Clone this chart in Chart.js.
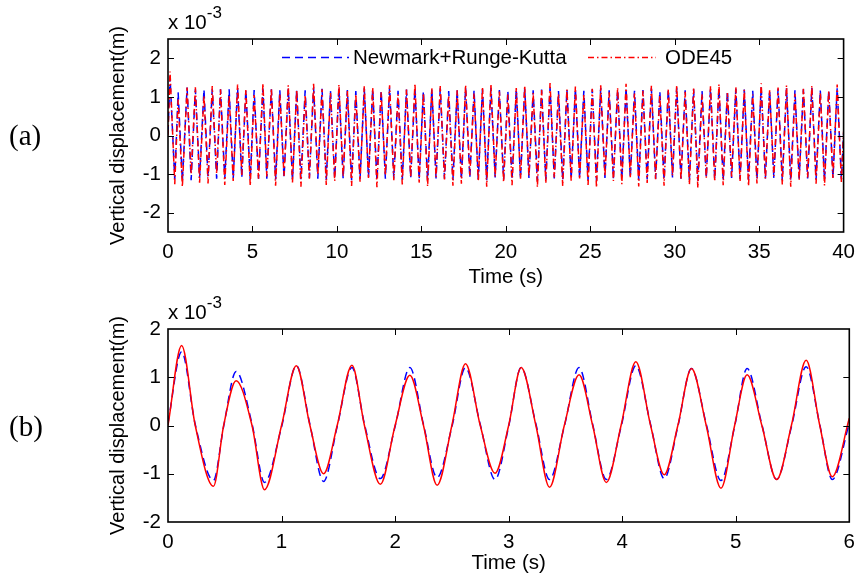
<!DOCTYPE html>
<html>
<head>
<meta charset="utf-8">
<script src="https://cdn.jsdelivr.net/npm/chart.js@4.4.1/dist/chart.umd.min.js"></script>
<style>
html,body{margin:0;padding:0;background:#ffffff;}
#wrap{position:relative;width:863px;height:581px;overflow:hidden;background:#fff;}
#c1{position:absolute;left:0;top:0;}
#c2{position:absolute;left:0;top:290px;}
</style>
</head>
<body>
<div id="wrap">
<canvas id="c1" width="863" height="290"></canvas>
<canvas id="c2" width="863" height="291"></canvas>
</div>
<script>
// ---------- Panel (a): 0-40 s (values in units of 1e-3 m) ----------
const timeA = [0,0.12,0.40,0.60,0.85,1.13,1.37,1.62,1.87,2.13,2.37,2.62,2.88,3.11,3.36,3.62,3.86,4.12,4.37,4.61,4.87,5.10,5.36,5.62,5.85,
6.12,6.37,6.62,6.87,7.12,7.37,7.62,7.87,8.12,8.37,8.62,8.87,9.12,9.37,9.62,9.87,
10.12,10.37,10.62,10.87,11.12,11.37,11.62,11.87,12.12,12.37,12.62,12.87,13.12,13.37,13.62,13.87,14.12,14.37,14.62,14.87,
15.12,15.37,15.62,15.87,16.12,16.37,16.62,16.87,17.12,17.37,17.62,17.87,18.12,18.37,18.62,18.87,19.12,19.37,19.62,19.87,
20.12,20.37,20.62,20.87,21.12,21.37,21.62,21.87,22.12,22.37,22.62,22.87,23.12,23.37,23.62,23.87,24.12,24.37,24.62,24.87,
25.12,25.37,25.62,25.87,26.12,26.37,26.62,26.87,27.12,27.37,27.62,27.87,28.12,28.37,28.62,28.87,29.12,29.37,29.62,29.87,
30.12,30.37,30.62,30.87,31.12,31.37,31.62,31.87,32.12,32.37,32.62,32.87,33.12,33.37,33.62,33.87,34.12,34.37,34.62,34.87,
35.12,35.37,35.62,35.87,36.12,36.37,36.62,36.87,37.12,37.37,37.62,37.87,38.12,38.37,38.62,38.87,39.12,39.37,39.62,39.87,40];

const newmarkA = [0.05,1.53,-1.14,1.12,-1.18,1.24,-1.16,1.20,-1.10,1.20,-1.08,1.20,-1.12,1.20,-1.12,1.20,-1.12,1.24,-1.10,1.18,-1.14,1.18,-1.12,1.22,-1.12,
1.20,-1.14,1.18,-1.10, 1.22,-1.16,1.19,-1.13, 1.17,-1.10,1.24,-1.12, 1.21,-1.15,1.16,-1.11,
1.23,-1.12,1.18,-1.16, 1.15,-1.13,1.22,-1.09, 1.20,-1.17,1.17,-1.12, 1.24,-1.11,1.16,-1.15, 1.19,-1.10,1.23,-1.14,
1.16,-1.16,1.21,-1.11, 1.22,-1.12,1.15,-1.15, 1.18,-1.14,1.24,-1.10, 1.17,-1.13,1.20,-1.16, 1.23,-1.09,1.18,-1.14,
1.16,-1.15,1.21,-1.12, 1.22,-1.10,1.17,-1.17, 1.19,-1.14,1.25,-1.11, 1.15,-1.16,1.20,-1.13, 1.21,-1.11,1.16,-1.15,
1.20,-1.17,1.23,-1.10, 1.17,-1.12,1.19,-1.14, 1.24,-1.10,1.16,-1.16, 1.18,-1.13,1.22,-1.12, 1.15,-1.15,1.20,-1.09,
1.23,-1.12,1.17,-1.15, 1.20,-1.17,1.15,-1.11, 1.22,-1.14,1.24,-1.16, 1.16,-1.10,1.21,-1.13, 1.19,-1.15,1.16,-1.14,
1.25,-1.11,1.18,-1.10, 1.21,-1.16,1.22,-1.15, 1.17,-1.12,1.20,-1.11, 1.23,-1.14,1.17,-1.16, 1.18,-1.11,1.23,-1.13,
0.05];

const ode45A = [0.00,1.66,-1.26,0.93,-1.33,1.24,-1.00,1.25,-1.22,1.04,-1.24,1.28,-0.99,1.20,-1.28,1.05,-1.18,1.32,-1.02,1.18,-1.30,1.05,-1.12,1.35,-1.06,
1.22,-1.30,1.08,-1.05, 1.30,-1.22,1.18,-1.33, 1.05,-1.12,1.34,-1.02, 1.20,-1.28,1.10,-1.18,
1.32,-1.06,1.16,-1.31, 1.07,-1.20,1.28,-1.10, 1.24,-1.34,1.12,-1.04, 1.30,-1.16,1.06,-1.27, 1.19,-1.09,1.35,-1.22,
1.10,-1.32,1.22,-1.08, 1.28,-1.14,1.04,-1.30, 1.17,-1.25,1.31,-1.03, 1.09,-1.19,1.26,-1.33, 1.33,-1.07,1.14,-1.21,
1.06,-1.29,1.23,-1.12, 1.29,-1.05,1.11,-1.34, 1.18,-1.24,1.36,-1.09, 1.08,-1.31,1.20,-1.17, 1.27,-1.11,1.05,-1.28,
1.21,-1.35,1.30,-1.06, 1.12,-1.18,1.24,-1.26, 1.34,-1.08,1.09,-1.32, 1.16,-1.23,1.29,-1.13, 1.05,-1.30,1.19,-1.04,
1.31,-1.15,1.13,-1.27, 1.22,-1.36,1.07,-1.10, 1.28,-1.20,1.33,-1.29, 1.10,-1.07,1.25,-1.19, 1.19,-1.31,1.06,-1.24,
1.35,-1.12,1.17,-1.05, 1.24,-1.27,1.30,-1.33, 1.08,-1.16,1.21,-1.09, 1.29,-1.25,1.12,-1.30, 1.16,-1.10,1.32,-1.21,
0.10];

const xTicksA = [0,5,10,15,20,25,30,35,40];
const yTicksA = [-2,-1,0,1,2];

// ---------- Panel (b): 0-6 s ----------
const timeB = [0,0.12,0.24,0.40,0.49,0.60,0.74,0.85,1.00,1.13,1.25,1.37,1.49,1.62,1.73,1.87,2.00,2.13,2.25,2.37,2.50,2.62,2.75,2.88,3.00,3.11,3.24,3.36,3.49,3.62,3.74,3.86,3.99,4.12,4.25,4.37,4.49,4.61,4.74,4.87,4.99,5.10,5.23,5.36,5.49,5.62,5.74,5.85,6.00];
const newmarkB = [0.05,1.53,0.02,-1.14,-0.02,1.12,0.03,-1.18,-0.03,1.24,0.02,-1.16,-0.02,1.20,0.03,-1.10,-0.02,1.20,0.02,-1.08,-0.03,1.20,0.02,-1.12,-0.02,1.20,0.03,-1.12,-0.02,1.20,0.02,-1.12,-0.03,1.24,0.02,-1.10,-0.02,1.18,0.03,-1.14,-0.02,1.18,0.02,-1.12,-0.03,1.22,0.02,-1.12,0.05];
const ode45B = [0.00,1.66,0.00,-1.26,0.00,0.93,0.00,-1.33,0.00,1.24,0.00,-1.00,0.00,1.25,0.00,-1.22,0.00,1.04,0.00,-1.24,0.00,1.28,0.00,-0.99,0.00,1.20,0.00,-1.28,0.00,1.05,0.00,-1.18,0.00,1.32,0.00,-1.02,0.00,1.18,0.00,-1.30,0.00,1.05,0.00,-1.12,0.00,1.35,0.00,-1.06,0.15];
const xTicksB = [0,1,2,3,4,5,6];
const yTicksB = [-2,-1,0,1,2];

const seriesNames = ['Newmark+Runge-Kutta','ODE45'];
const panelLabels = ['(a)','(b)'];
const xTitle = 'Time (s)';
const yTitle = 'Vertical displacement(m)';
const expText = 'x 10';
const expSup = '-3';

// ---------- styling ----------
const FONT = '"Liberation Sans", Arial, Helvetica, sans-serif';
Chart.defaults.font.family = FONT;
Chart.defaults.color = '#000';
const BLUE = '#0000ff', RED = '#ff0000';
const blueDash = [8,5];
const redDashDot = [6,3,1.5,3];

function pts(t, v){ return t.map((x,i)=>({x:x, y:v[i]})); }

const decor = {
  id:'decor',
  afterDraw(chart, args, o){
    const {ctx, chartArea:{left,right,top,bottom}, scales:{x,y}} = chart;
    ctx.save();
    ctx.setLineDash([]);
    ctx.strokeStyle = '#000';
    // inward ticks on all four sides
    ctx.lineWidth = 1;
    ctx.beginPath();
    x.ticks.forEach(t=>{
      const px = Math.round(x.getPixelForValue(t.value)) + 0.5;
      if (px < left+2 || px > right-2) return;
      ctx.moveTo(px,bottom); ctx.lineTo(px,bottom-6);
      ctx.moveTo(px,top); ctx.lineTo(px,top+6);
    });
    y.ticks.forEach(t=>{
      const py = Math.round(y.getPixelForValue(t.value)) + 0.5;
      if (py < top+2 || py > bottom-2) return;
      ctx.moveTo(left,py); ctx.lineTo(left+6,py);
      ctx.moveTo(right,py); ctx.lineTo(right-6,py);
    });
    ctx.stroke();
    // box
    ctx.lineWidth = 1.6;
    ctx.strokeRect(left, top, right-left, bottom-top);
    // exponent text
    ctx.fillStyle = '#000';
    ctx.textBaseline = 'middle';
    ctx.textAlign = 'left';
    ctx.font = '20.5px ' + FONT;
    ctx.fillText(expText, left, o.expY);
    const w = ctx.measureText(expText).width;
    ctx.font = '17px ' + FONT;
    ctx.fillText(expSup, left + w, o.expY - 10);
    // panel label
    ctx.font = '29px "Liberation Serif", "Times New Roman", serif';
    ctx.fillText(o.panel, 9, o.panelY);
    // legend
    if (o.legend) {
      const ly = 57.5;
      ctx.lineWidth = 1.5;
      ctx.strokeStyle = BLUE; ctx.setLineDash(blueDash);
      ctx.beginPath(); ctx.moveTo(282, ly); ctx.lineTo(349, ly); ctx.stroke();
      ctx.strokeStyle = RED; ctx.setLineDash(redDashDot);
      ctx.beginPath(); ctx.moveTo(588, ly); ctx.lineTo(656, ly); ctx.stroke();
      ctx.setLineDash([]);
      ctx.font = '20.5px ' + FONT;
      ctx.fillText(seriesNames[0], 353, ly + 1);
      ctx.fillText(seriesNames[1], 665, ly + 1);
    }
    ctx.restore();
  }
};

function makeChart(id, t, nm, ode, xMin, xMax, xTicks, yMin, yMax, yTicks, opts){
  return new Chart(document.getElementById(id), {
    type:'line',
    data:{
      datasets:[
        {label:seriesNames[0], data:pts(t,nm), borderColor:BLUE, borderWidth:1.5, borderDash:blueDash,
         pointRadius:0, fill:false, tension:opts.tension, cubicInterpolationMode:opts.cubic, order:1},
        {label:seriesNames[1], data:pts(t,ode), borderColor:RED, borderWidth:1.5, borderDash:opts.redDash,
         pointRadius:0, fill:false, tension:opts.tension, cubicInterpolationMode:opts.cubic, order:0}
      ]
    },
    options:{
      responsive:false, animation:false, events:[],
      layout:{padding:{left:0,right:13,top:39,bottom:0}},
      plugins:{legend:{display:false}, tooltip:{enabled:false}, decor:opts.decor},
      scales:{
        x:{type:'linear', min:xMin, max:xMax,
           afterBuildTicks:s=>{ s.ticks = xTicks.map(v=>({value:v})); },
           afterFit:s=>{ s.height = opts.xH; },
           grid:{display:false, drawTicks:false}, border:{display:false},
           ticks:{color:'#000', font:{size:20.5}, padding:8, maxRotation:0, autoSkip:false},
           title:{display:true, text:xTitle, color:'#000', font:{size:20.5}, padding:{top:0,bottom:opts.xTitlePad}}},
        y:{type:'linear', min:yMin, max:yMax,
           afterBuildTicks:s=>{ s.ticks = yTicks.map(v=>({value:v})); },
           afterFit:s=>{ s.width = 168; },
           grid:{display:false, drawTicks:false}, border:{display:false},
           ticks:{color:'#000', font:{size:20.5}, padding:7},
           title:{display:true, text:yTitle, color:'#000', font:{size:20}, padding:{top:106,bottom:0}}}
      }
    },
    plugins:[decor]
  });
}

makeChart('c1', timeA, newmarkA, ode45A, 0, 40, xTicksA, -2.5, 2.5, yTicksA,
  {tension:0, cubic:'default', redDash:redDashDot, xH:58, xTitlePad:0.7,
   decor:{legend:true, panel:panelLabels[0], panelY:137, expY:23}});
makeChart('c2', timeB, newmarkB, ode45B, 0, 6, xTicksB, -2, 2, yTicksB,
  {tension:0.4, cubic:'monotone', redDash:[], xH:59, xTitlePad:5.7,
   decor:{legend:false, panel:panelLabels[1], panelY:138, expY:23}});
</script>
</body>
</html>
